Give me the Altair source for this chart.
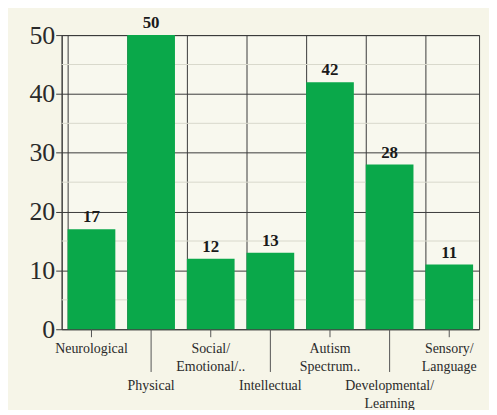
import altair as alt
import pandas as pd

categories = ["Neurological", "Physical", "Social/\nEmotional/..", "Intellectual",
              "Autism\nSpectrum..", "Developmental/\nLearning", "Sensory/\nLanguage"]
values = [17, 50, 12, 13, 42, 28, 11]
y_ticks = [0, 10, 20, 30, 40, 50]
minor_ticks = [5, 15, 25, 35, 45]

df = pd.DataFrame({
    "cat": categories,
    "val": values,
    "idx": list(range(len(categories))),
})
df["row"] = df["idx"] % 2

W, H = 420, 296
BG = "#f6f5e8"
GREEN = "#0aa84a"
FONT = "Liberation Serif"

xscale = alt.Scale(domain=categories, paddingInner=0.2, paddingOuter=0.1)
yscale = alt.Scale(domain=[0, 50], nice=False)

x_enc = alt.X("cat:N", sort=categories, scale=xscale,
              axis=alt.Axis(title=None, labels=False, ticks=False, domain=False,
                            grid=True, bandPosition=0, gridColor="#3a3a3a",
                            gridWidth=1))

minor = alt.Chart(pd.DataFrame({"v": minor_ticks})).mark_rule(
    color="#d9d9cc", strokeWidth=1
).encode(y=alt.Y("v:Q", scale=yscale))

bars = alt.Chart(df).mark_bar(color=GREEN).encode(
    x=x_enc,
    y=alt.Y("val:Q", scale=yscale,
            axis=alt.Axis(title=None, values=y_ticks, grid=True, gridColor="#3a3a3a",
                          domainColor="#3a3a3a", tickColor="#3a3a3a", tickSize=6,
                          labelFont=FONT, labelFontSize=26, labelColor="#2a2a2a",
                          labelPadding=1)),
)

vals = alt.Chart(df).mark_text(
    font=FONT, fontSize=17, fontWeight="bold", dy=-12, color="#1a1a1a"
).encode(
    x=alt.X("cat:N", sort=categories, scale=xscale),
    y=alt.Y("val:Q", scale=yscale),
    text="val:Q",
)

ticks_short = alt.Chart(df[df["row"] == 0]).mark_rule(color="#555555").encode(
    x=alt.X("cat:N", sort=categories, scale=xscale),
    y=alt.value(H), y2=alt.value(H + 8),
)
ticks_long = alt.Chart(df[df["row"] == 1]).mark_rule(color="#555555").encode(
    x=alt.X("cat:N", sort=categories, scale=xscale),
    y=alt.value(H), y2=alt.value(H + 43),
)

labels_top = alt.Chart(df[df["row"] == 0]).mark_text(
    font=FONT, fontSize=14, baseline="top", lineHeight=18, color="#2a2a2a"
).encode(
    x=alt.X("cat:N", sort=categories, scale=xscale),
    y=alt.value(H + 13),
    text="cat:N",
)
labels_bot = alt.Chart(df[df["row"] == 1]).mark_text(
    font=FONT, fontSize=14, baseline="top", lineHeight=18, color="#2a2a2a"
).encode(
    x=alt.X("cat:N", sort=categories, scale=xscale),
    y=alt.value(H + 50),
    text="cat:N",
)

chart = alt.layer(minor, bars, vals, ticks_short, ticks_long, labels_top, labels_bot).properties(
    width=W, height=H,
    background=BG,
    autosize=alt.AutoSizeParams(type="none"),
    padding={"left": 54, "top": 26, "right": 10, "bottom": 80},
).configure_view(
    stroke="#3a3a3a", fill="#f8f8ee"
).configure_text(lineBreak="\n")

chart.save("out.html", embed_options={"renderer": "svg", "actions": False})
